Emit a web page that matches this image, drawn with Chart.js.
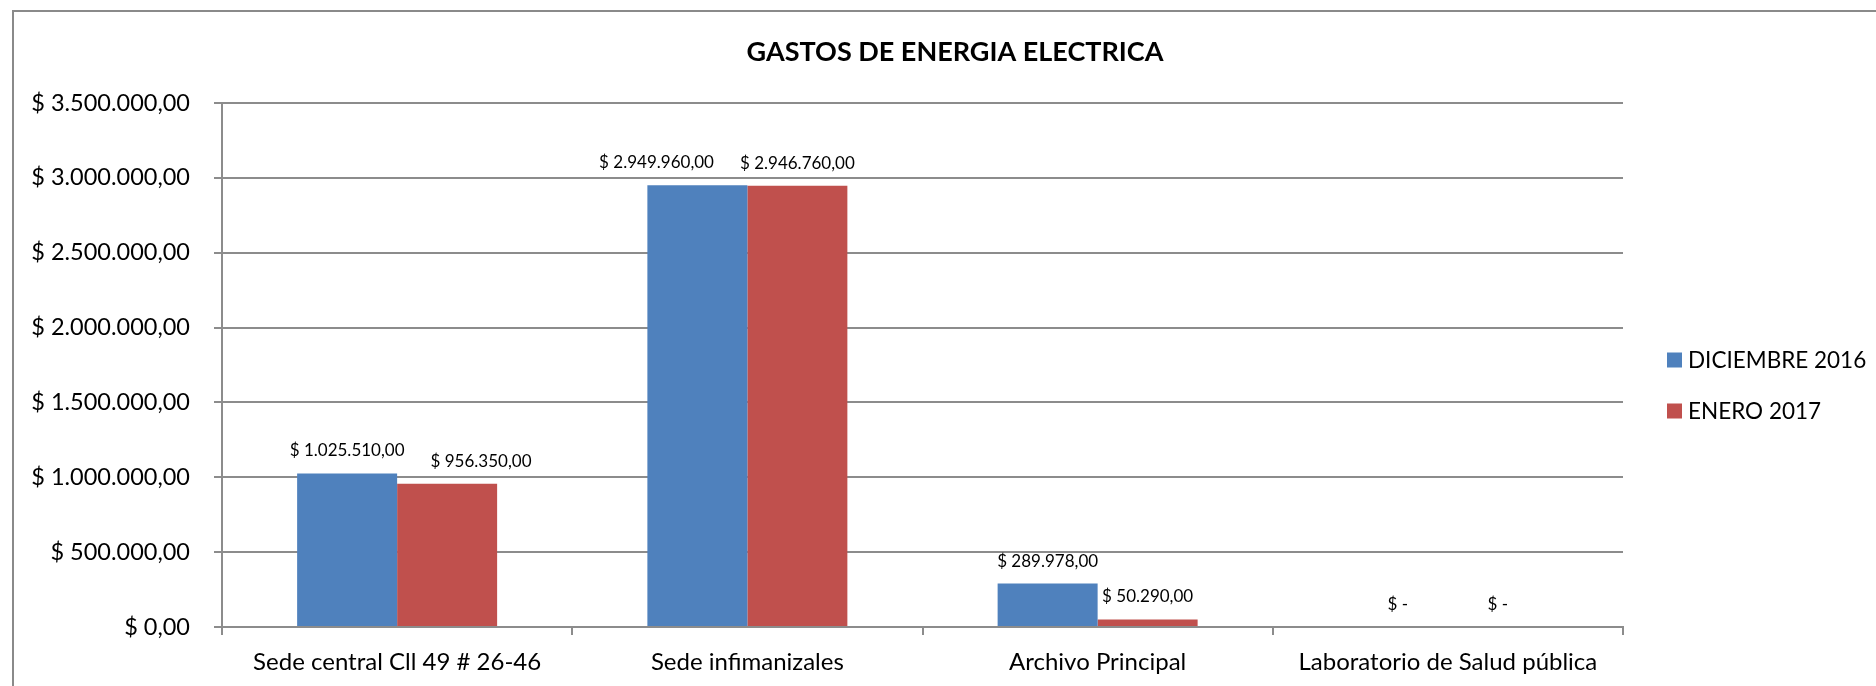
<!DOCTYPE html>
<html>
<head>
<meta charset="utf-8">
<script src="https://cdn.jsdelivr.net/npm/chart.js@4.4.1/dist/chart.umd.min.js"></script>
<style>
  html, body { margin: 0; padding: 0; background: #fff; }
  #wrap { width: 1876px; height: 686px; position: relative; }
</style>
</head>
<body>
<div id="wrap"><canvas id="chart" width="1876" height="686"></canvas></div>
<script>
const chartTitle = 'GASTOS DE ENERGIA ELECTRICA';
const categories = ['Sede central Cll 49 # 26-46', 'Sede infimanizales', 'Archivo Principal', 'Laboratorio de Salud pública'];
const seriesNames = ['DICIEMBRE 2016', 'ENERO 2017'];
const diciembre2016 = [1025510, 2949960, 289978, 0];
const enero2017 = [956350, 2946760, 50290, 0];
const yMax = 3500000;
const yStep = 500000;

const FONT = 'Lato, "Open Sans", sans-serif';
const GRID = '#8c8c8c';

function money(v, dash) {
    if (dash && v === 0) return '$ -';
    const parts = v.toFixed(2).split('.');
    const ent = parts[0].replace(/\B(?=(\d{3})+(?!\d))/g, '.');
    return '$ ' + ent + ',' + parts[1];
}

// border, title, legend, data labels
const decor = {
    id: 'decor',
    beforeDraw(chart) {
        const ctx = chart.ctx;
        ctx.save();
        ctx.strokeStyle = '#8a8a8a';
        ctx.lineWidth = 2;
        ctx.strokeRect(13, 11, 2000, 1000);
        ctx.restore();
    },
    afterDatasetsDraw(chart) {
        const ctx = chart.ctx;
        const area = chart.chartArea;
        ctx.save();

        // title
        ctx.fillStyle = '#000';
        ctx.font = 'bold 27px ' + FONT;
        ctx.textAlign = 'center';
        ctx.textBaseline = 'alphabetic';
        ctx.fillText(chartTitle, 955, 61);

        // legend
        ctx.font = '22.5px ' + FONT;
        ctx.textAlign = 'left';
        ctx.textBaseline = 'middle';
        const midY = (area.top + area.bottom) / 2 - 5;
        chart.data.datasets.forEach((ds, i) => {
            const y = midY + i * 51;
            ctx.fillStyle = ds.backgroundColor;
            ctx.fillRect(area.right + 44, y - 7.5, 15, 15);
            ctx.fillStyle = '#000';
            ctx.fillText(ds.label, area.right + 65, y + 1);
        });

        // data labels, nudged apart when they collide
        ctx.font = '17px ' + FONT;
        ctx.textBaseline = 'alphabetic';
        ctx.textAlign = 'center';
        const m0 = chart.getDatasetMeta(0).data;
        const m1 = chart.getDatasetMeta(1).data;
        const d0 = chart.data.datasets[0].data;
        const d1 = chart.data.datasets[1].data;
        for (let k = 0; k < m0.length; k++) {
            const t0 = money(d0[k], true), t1 = money(d1[k], true);
            const w0 = ctx.measureText(t0).width, w1 = ctx.measureText(t1).width;
            let x0 = m0[k].x, x1 = m1[k].x;
            const y0 = m0[k].y - 17, y1 = m1[k].y - 17;
            const overlap = (x0 + w0 / 2 + 26) - (x1 - w1 / 2);
            if (overlap > 0 && Math.abs(y0 - y1) < 20) {
                if (Math.abs(y0 - y1) < 2) x0 -= overlap;
                else x1 += overlap;
            }
            ctx.fillStyle = '#000';
            ctx.fillText(t0, x0, y0);
            ctx.fillText(t1, x1, y1);
        }
        ctx.restore();
    }
};

const ctx = document.getElementById('chart').getContext('2d');
const chart = new Chart(ctx, {
    type: 'bar',
    data: {
        labels: categories,
        datasets: [{
            label: seriesNames[0],
            data: diciembre2016,
            backgroundColor: '#4f81bd'
        }, {
            label: seriesNames[1],
            data: enero2017,
            backgroundColor: '#c0504d'
        }]
    },
    options: {
        responsive: false,
        animation: false,
        devicePixelRatio: 1,
        layout: { padding: { top: 103, right: 253, bottom: 0, left: 0 } },
        datasets: { bar: { categoryPercentage: 0.571, barPercentage: 1.0 } },
        plugins: {
            legend: { display: false },
            title: { display: false },
            tooltip: { enabled: false }
        },
        scales: {
            x: {
                afterFit(scale) { scale.height = 59; },
                grid: { display: true, drawOnChartArea: false, drawTicks: true, tickLength: 8, color: GRID, lineWidth: 2, offset: true },
                border: { display: true, color: GRID, width: 2 },
                ticks: { color: '#000', font: { family: FONT, size: 24 }, padding: 13, maxRotation: 0, autoSkip: false }
            },
            y: {
                min: 0,
                max: yMax,
                afterFit(scale) { scale.width = 222; },
                grid: { color: GRID, lineWidth: 2, tickLength: 8 },
                border: { display: true, color: GRID, width: 2 },
                ticks: {
                    stepSize: yStep,
                    color: '#000',
                    font: { family: FONT, size: 23.5 },
                    padding: 24,
                    callback: (v) => money(v, false)
                }
            }
        }
    },
    plugins: [decor]
});
</script>
</body>
</html>
